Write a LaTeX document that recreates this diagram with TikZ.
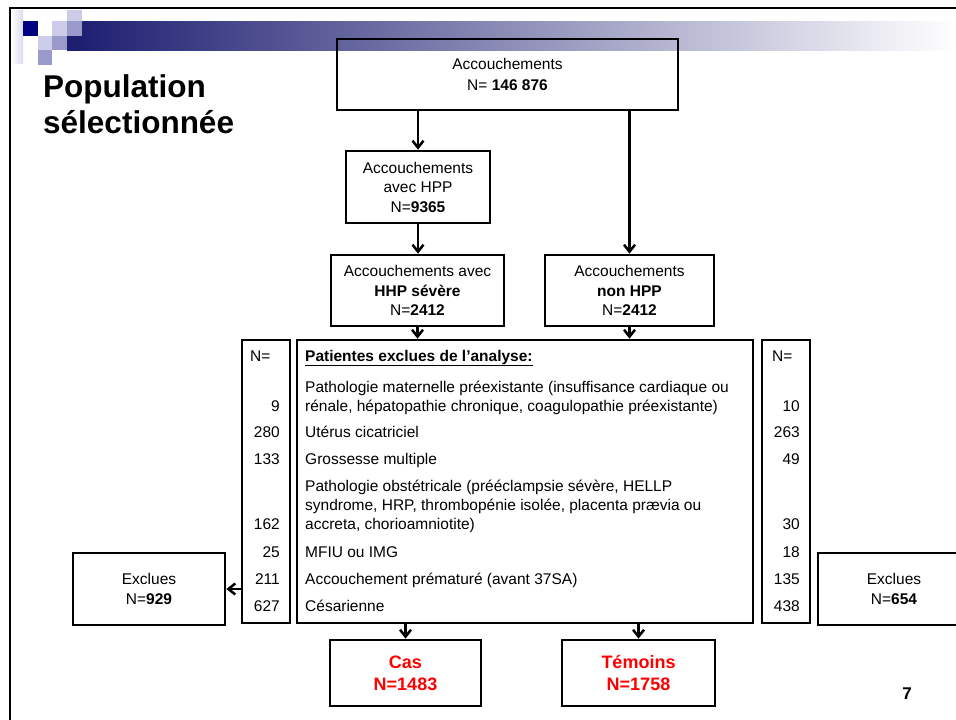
\documentclass[tikz,border=0pt]{standalone}
\usepackage{fontspec}
\setmainfont{Liberation Sans}
\usetikzlibrary{arrows.meta,positioning,calc}

\definecolor{navy}{RGB}{0,0,128}
\definecolor{lila}{RGB}{204,204,232}
\definecolor{mauve}{RGB}{153,153,204}
\definecolor{barblue}{RGB}{28,28,112}

\begin{document}
\begin{tikzpicture}[x=1pt, y=-1pt,
    box/.style={draw, line width=2.6pt, align=center, inner sep=0pt, font=\fontsize{15.5}{19.5}\selectfont},
    col/.style={draw, line width=2.6pt, minimum width=48pt, minimum height=283pt, inner sep=0pt},
    txt/.style={anchor=base west, inner sep=0pt, font=\fontsize{15.5}{19}\selectfont},
    num/.style={anchor=base east, inner sep=0pt, font=\fontsize{15.5}{19}\selectfont},
    result/.style={box, text=red, font=\fontsize{18}{22}\selectfont\bfseries},
    arrow/.style={-{Straight Barb[length=7pt,width=11pt]}, line width=2.5pt}
]
\useasboundingbox (0,0) rectangle (956,720);
\clip (0,0) rectangle (956,720);

% slide header
\shade[left color=barblue, right color=white] (67,21) rectangle (956,50);
\shade[left color=white, right color=lila!70] (11,10) rectangle (23,63);
\fill[lila] (67,10) rectangle (82,21);
\fill[navy] (23,21) rectangle (38,36);
\fill[lila] (52,21) rectangle (67,36);
\fill[mauve] (67,21) rectangle (82,36);
\fill[lila] (38,36) rectangle (52,50);
\fill[mauve] (52,36) rectangle (67,50);
\fill[mauve] (38,50) rectangle (52,65);
\draw[line width=2pt] (10,720) -- (10,8) -- (956,8);

\node[anchor=base west, inner sep=0pt, font=\fontsize{31.5}{36}\selectfont\bfseries] (titre1) at (43,97) {Population};
\node[anchor=base west, inner sep=0pt, font=\fontsize{31.5}{36}\selectfont\bfseries] (titre2) at (43,133) {sélectionnée};

% flow
\node[box, minimum width=341pt, minimum height=71pt] (acc) at (507.5,74.5) {Accouchements\\[2pt]N= \textbf{146 876}};
\node[box, minimum width=144pt, minimum height=72pt] (hpp) at (418,187) {Accouchements\\avec HPP\\N=\textbf{9365}};
\node[box, minimum width=173pt, minimum height=71pt] (sev) at (417.5,290.5) {Accouchements avec\\\textbf{HHP sévère}\\N=\textbf{2412}};
\node[box, minimum width=169pt, minimum height=71pt] (non) at (629.5,290.5) {Accouchements\\\textbf{non HPP}\\N=\textbf{2412}};

\node[col] (nleft) at (266,481.5) {};
\node[draw, line width=2.6pt, minimum width=456pt, minimum height=283pt, inner sep=0pt] (excl) at (525,481.5) {};
\node[col] (nright) at (786,481.5) {};

\node[txt] (nl) at (250,361) {N=};
\node[txt] (nr) at (772,361) {N=};
\node[txt, font=\fontsize{15.5}{19}\selectfont\bfseries] (titreexcl) at (305,361) {\underline{Patientes exclues de l’analyse:}};

\foreach \yy/\nl/\nr/\ligne [count=\i] in {
    392/{}/{}/{Pathologie maternelle préexistante (insuffisance cardiaque ou},
    411/9/10/{rénale, hépatopathie chronique, coagulopathie préexistante)},
    437/280/263/{Utérus cicatriciel},
    464/133/49/{Grossesse multiple},
    491/{}/{}/{Pathologie obstétricale (prééclampsie sévère, HELLP},
    510/{}/{}/{syndrome, HRP, thrombopénie isolée, placenta prævia ou},
    529/162/30/{accreta, chorioamniotite)},
    557/25/18/{MFIU ou IMG},
    584/211/135/{Accouchement prématuré (avant 37SA)},
    611/627/438/{Césarienne}}{
    \node[txt] (ligne\i) at (305,\yy) {\ligne};
    \node[num] (gauche\i) at (280,\yy) {\nl};
    \node[num] (droite\i) at (800,\yy) {\nr};
}

\node[box, minimum width=152pt, minimum height=72pt] (exleft) at (149,589) {Exclues\\N=\textbf{929}};
\node[box, minimum width=152pt, minimum height=72pt] (exright) at (894,589) {Exclues\\N=\textbf{654}};

\node[result, minimum width=151pt, minimum height=66pt] (cas) at (405.5,673) {Cas\\N=1483};
\node[result, minimum width=153pt, minimum height=66pt] (tem) at (638.5,673) {Témoins\\N=1758};

\node[font=\fontsize{17}{20}\selectfont\bfseries] (page) at (907,694) {7};

% arrows
\draw[arrow] (acc.south -| hpp.north) -- (hpp.north);
\draw[arrow] (acc.south -| non.north) -- (non.north);
\draw[arrow] (hpp.south) -- (hpp.south |- sev.north);
\draw[arrow] (sev.south) -- (sev.south |- excl.north);
\draw[arrow] (non.south) -- (non.south |- excl.north);
\draw[arrow] (cas.north |- excl.south) -- (cas.north);
\draw[arrow] (tem.north |- excl.south) -- (tem.north);
\draw[arrow] (nleft.west |- exleft.east) -- (exleft.east);
\end{tikzpicture}
\end{document}
